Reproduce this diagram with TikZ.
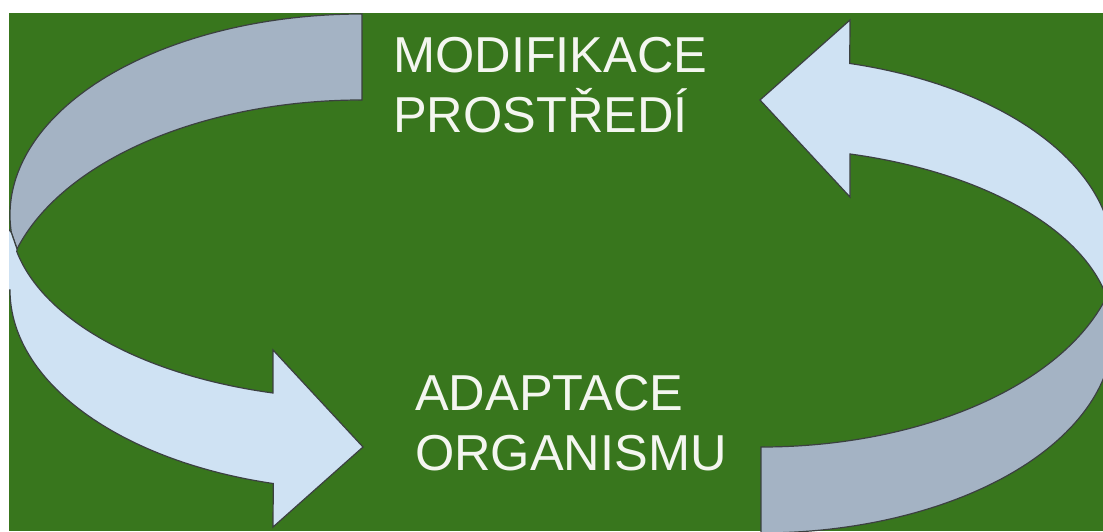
\documentclass[tikz,border=0pt]{standalone}
\usepackage{fontspec}
\setmainfont{Liberation Sans}
\definecolor{leaf}{HTML}{38761D}
\definecolor{bandback}{HTML}{A4B3C4}
\definecolor{bandfront}{HTML}{CFE2F3}
\definecolor{rim}{HTML}{3B4040}
\definecolor{label}{HTML}{F4F6F0}
\tikzset{
  backband/.style={fill=bandback, draw=rim, line width=1.2pt},
  frontband/.style={fill=bandfront, draw=rim, line width=1.2pt},
  caption/.style={text=label, font=\fontsize{50.5}{60}\selectfont, inner sep=0pt, anchor=base west},
}
% One looping ribbon arrow: the far half (tail) and the near half (head)
\newcommand\cyclearrow{%
  \path[backband] (362,517)
    arc[start angle=90, end angle=185, x radius=352pt, y radius=201pt]
    -- (17,282)
    arc[start angle=163.4, end angle=90, x radius=360pt, y radius=208.6pt] -- cycle;
  \path[frontband] (17,282) -- (11.3,298.5) -- (2,310) -- (2,241) -- (10,241)
    arc[start angle=180, end angle=255.4, x radius=352pt, y radius=200pt]
    -- (273,4) -- (363,84) -- (273,181) -- (273,138)
    arc[start angle=255.4, end angle=191.5, x radius=352pt, y radius=184pt] -- cycle;
}
\begin{document}
\begin{tikzpicture}[x=1pt,y=1pt]
  \useasboundingbox (0,0) rectangle (1103,531);
  \fill[white] (0,0) rectangle (1103,531);
  \fill[leaf] (9,0) rectangle (1103,518);
  \begin{scope}
    \clip (9,0) rectangle (1103,518);
    \cyclearrow
    \begin{scope}[rotate around={180:(561.5,257.5)}]
      \cyclearrow
    \end{scope}
  \end{scope}
  \node[caption] (mod1) at (393,458) {MODIFIKACE};
  \node[caption] (mod2) at (393,398) {PROSTŘEDÍ};
  \node[caption] (ad1) at (415,121) {ADAPTACE};
  \node[caption] (ad2) at (415,61) {ORGANISMU};
\end{tikzpicture}
\end{document}
